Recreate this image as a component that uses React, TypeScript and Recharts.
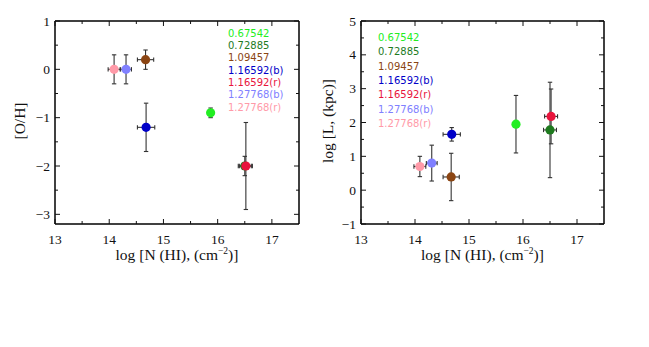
import { ScatterChart, Scatter, XAxis, YAxis, ErrorBar } from 'recharts';

// absorber redshifts, one series each
const redshifts = ['0.67542', '0.72885', '1.09457', '1.16592(b)', '1.16592(r)', '1.27768(b)', '1.27768(r)'];
const colors = ['#22ee22', '#1e7a1e', '#8b4513', '#0000c8', '#e8143c', '#8080ff', '#ff9aa8'];

// log N(HI) and its error (same in both panels)
const logNHI = [15.87, 16.5, 14.67, 14.68, 16.52, 14.31, 14.09];
const logNHIErr = [0.04, 0.12, 0.15, 0.16, 0.12, 0.1, 0.11];

// [O/H]
const metallicity = [-0.9, -2.0, 0.2, -1.2, -2.0, 0.0, 0.0];
const metallicityErr = [0.1, 0.2, 0.2, 0.5, 0.9, 0.3, 0.3];

// log L (kpc)
const logL = [1.95, 1.78, 0.39, 1.65, 2.18, 0.8, 0.7];
const logLErr = [0.85, 1.41, 0.7, 0.2, 0.81, 0.53, 0.3];

const nhiTicks = [13, 13.5, 14, 14.5, 15, 15.5, 16, 16.5, 17];
const ohTicks = [-3, -2.5, -2, -1.5, -1, -0.5, 0, 0.5, 1];
const lTicks = [-1, -0.5, 0, 0.5, 1, 1.5, 2, 2.5, 3, 3.5, 4, 4.5, 5];

const INK = '#111';
const SERIF = '"Liberation Serif", "DejaVu Serif", serif';
const SANS = '"DejaVu Sans", Verdana, sans-serif';

const isMajor = (v: number) => Math.abs(v - Math.round(v)) < 1e-6;
const fmt = (v: number) => (v < 0 ? '\u2212' + Math.abs(v) : String(v));
const tickLen = (v: number) => (isMajor(v) ? 5 : 3);

const BottomTick = ({ x, y, payload }: any) => (
  <g>
    <line x1={x} x2={x} y1={y} y2={y - tickLen(payload.value)} stroke={INK} />
    {isMajor(payload.value) && (
      <text x={x} y={y + 15} textAnchor="middle" dominantBaseline="central" fontFamily={SERIF} fontSize={13.5} fill={INK}>
        {fmt(payload.value)}
      </text>
    )}
  </g>
);

const TopTick = ({ x, y, payload }: any) => (
  <line x1={x} x2={x} y1={y} y2={y + tickLen(payload.value)} stroke={INK} />
);

const LeftTick = ({ x, y, payload }: any) => (
  <g>
    <line x1={x} x2={x + tickLen(payload.value)} y1={y} y2={y} stroke={INK} />
    {isMajor(payload.value) && (
      <text x={x - 5} y={y} textAnchor="end" dominantBaseline="central" fontFamily={SERIF} fontSize={13.5} fill={INK}>
        {fmt(payload.value)}
      </text>
    )}
  </g>
);

const RightTick = ({ x, y, payload }: any) => (
  <line x1={x} x2={x - tickLen(payload.value)} y1={y} y2={y} stroke={INK} />
);

type PanelProps = {
  left: number;
  width: number;
  yAxisWidth: number;
  rightMargin: number;
  yDomain: [number, number];
  yTicks: number[];
  yValues: number[];
  yErrors: number[];
  yTitle: string;
  yTitleX: number;
  legendX: number;
  legendY: number;
  legendStep: number;
};

const H = 347;
const TOP = 21;
const BOTTOM = 224;
const frame = { stroke: '#000', strokeWidth: 1.5 };

function Panel(p: PanelProps) {
  const series = redshifts.map((name, i) => ({
    name,
    color: colors[i],
    data: [{ x: logNHI[i], y: p.yValues[i], ex: logNHIErr[i], ey: p.yErrors[i] }],
  }));
  const plotCenter = (p.yAxisWidth + p.width - p.rightMargin) / 2;
  return (
    <div style={{ position: 'absolute', left: p.left, top: 0, width: p.width, height: H }}>
      <ScatterChart
        width={p.width}
        height={H}
        margin={{ top: TOP - 1, right: p.rightMargin - 1, bottom: H - BOTTOM - 1, left: 0 }}
      >
        <XAxis
          xAxisId="b"
          type="number"
          dataKey="x"
          domain={[13, 17.5]}
          allowDataOverflow
          ticks={nhiTicks}
          interval={0}
          height={1}
          tickSize={0}
          tickMargin={0}
          tick={<BottomTick />}
          axisLine={frame}
        />
        <XAxis
          xAxisId="t"
          orientation="top"
          type="number"
          dataKey="x"
          domain={[13, 17.5]}
          allowDataOverflow
          ticks={nhiTicks}
          interval={0}
          height={1}
          tickSize={0}
          tickMargin={0}
          tick={<TopTick />}
          axisLine={frame}
        />
        <YAxis
          yAxisId="l"
          type="number"
          dataKey="y"
          domain={p.yDomain}
          allowDataOverflow
          ticks={p.yTicks}
          interval={0}
          width={p.yAxisWidth}
          tickSize={0}
          tickMargin={0}
          tick={<LeftTick />}
          axisLine={frame}
        />
        <YAxis
          yAxisId="r"
          orientation="right"
          type="number"
          dataKey="y"
          domain={p.yDomain}
          allowDataOverflow
          ticks={p.yTicks}
          interval={0}
          width={1}
          tickSize={0}
          tickMargin={0}
          tick={<RightTick />}
          axisLine={frame}
        />
        {series.map((s) => (
          <Scatter
            key={s.name}
            name={s.name}
            data={s.data}
            xAxisId="b"
            yAxisId="l"
            isAnimationActive={false}
            shape={(d: any) => <circle cx={d.cx} cy={d.cy} r={4.6} fill={s.color} />}
          />
        ))}
        {series.map((s) => (
          <Scatter
            key={s.name + '-err'}
            data={s.data}
            xAxisId="b"
            yAxisId="l"
            isAnimationActive={false}
            shape={() => <g />}
          >
            <ErrorBar dataKey="ey" direction="y" width={2.2} stroke="#333" strokeWidth={1.1} />
            <ErrorBar dataKey="ex" direction="x" width={2.2} stroke="#333" strokeWidth={1.1} />
          </Scatter>
        ))}
      </ScatterChart>

      <div
        style={{
          position: 'absolute',
          left: plotCenter - 100,
          width: 200,
          top: 246,
          textAlign: 'center',
          fontFamily: SERIF,
          fontSize: 15.5,
          color: INK,
          whiteSpace: 'nowrap',
        }}
      >
        log [N (HI), (cm<sup style={{ fontSize: 9.5 }}>{'\u22122'}</sup>)]
      </div>
      <div
        style={{
          position: 'absolute',
          left: p.yTitleX - 100,
          width: 200,
          top: (TOP + BOTTOM) / 2 - 12,
          height: 20,
          lineHeight: '20px',
          textAlign: 'center',
          transform: 'rotate(-90deg)',
          fontFamily: SERIF,
          fontSize: 15.5,
          color: INK,
          whiteSpace: 'nowrap',
        }}
      >
        {p.yTitle}
      </div>
      <div style={{ position: 'absolute', left: p.legendX - p.left, top: p.legendY - p.legendStep / 2 }}>
        {series.map((s) => (
          <div
            key={s.name}
            style={{ color: s.color, fontFamily: SANS, fontSize: 10, height: p.legendStep, lineHeight: `${p.legendStep}px`, whiteSpace: 'nowrap' }}
          >
            {s.name}
          </div>
        ))}
      </div>
    </div>
  );
}

export default function App() {
  return (
    <div style={{ position: 'absolute', left: 0, top: 0, width: 649, height: H, background: '#fff' }}>
      <Panel
        left={0}
        width={320}
        yAxisWidth={55}
        rightMargin={21}
        yDomain={[-3.2, 1]}
        yTicks={ohTicks}
        yValues={metallicity}
        yErrors={metallicityErr}
        yTitle="[O/H]"
        yTitleX={20}
        legendX={228}
        legendY={34}
        legendStep={12.3}
      />
      <Panel
        left={320}
        width={329}
        yAxisWidth={41}
        rightMargin={45}
        yDomain={[-1, 5]}
        yTicks={lTicks}
        yValues={logL}
        yErrors={logLErr}
        yTitle="log [L, (kpc)]"
        yTitleX={8}
        legendX={378}
        legendY={38.3}
        legendStep={14.3}
      />
    </div>
  );
}
